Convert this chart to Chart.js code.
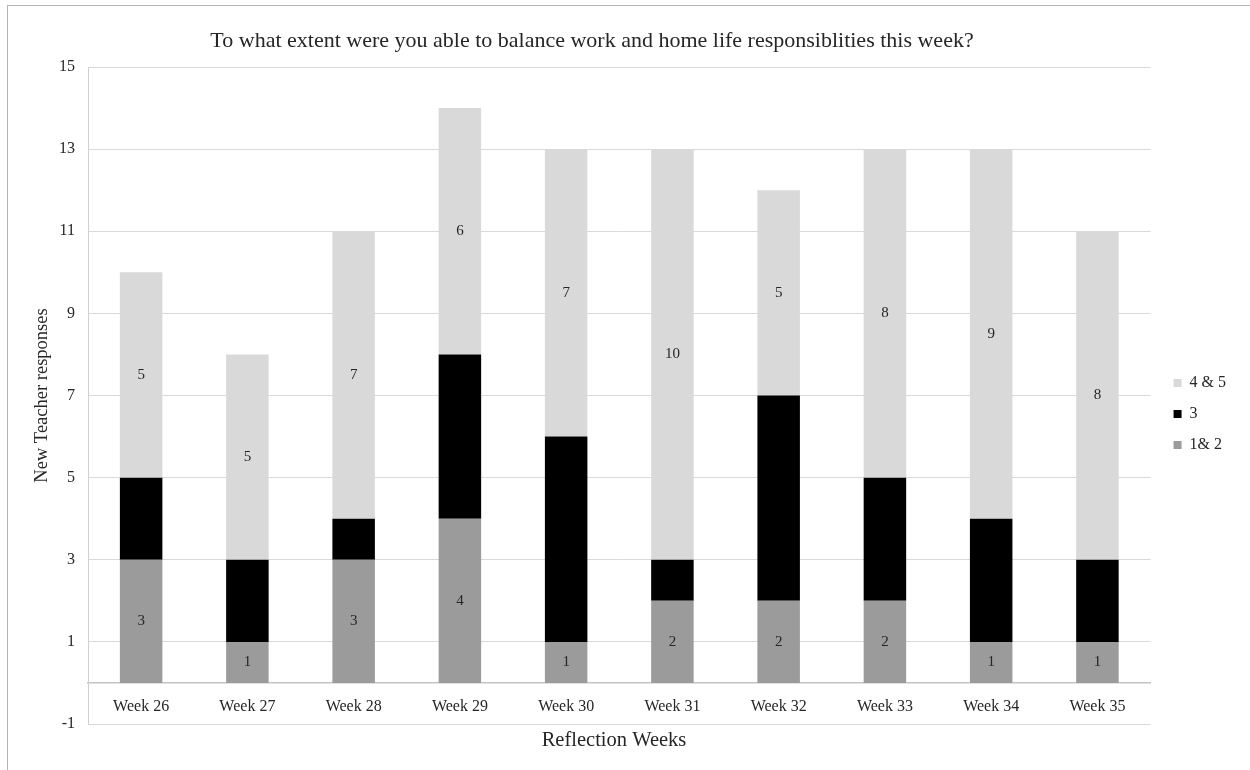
<!DOCTYPE html>
<html>
<head>
<meta charset="utf-8">
<title>Work and home life balance</title>
<script src="https://cdn.jsdelivr.net/npm/chart.js@4.4.1/dist/chart.umd.min.js"></script>
<style>
  html, body { margin: 0; padding: 0; background: #fff; }
  #wrap { position: relative; width: 1250px; height: 770px; overflow: hidden; }
  #frame {
    position: absolute; left: 7px; top: 5px; right: -2px; bottom: -2px;
    border-left: 1px solid #b4b4b4; border-top: 1px solid #b4b4b4;
  }
  canvas { position: absolute; left: 0; top: 0; }
</style>
</head>
<body>
<div id="wrap">
  <div id="frame"></div>
  <canvas id="chartBalance" width="1250" height="770"></canvas>
</div>
<script>
// ── DATA ─────────────────────────────────────────────
const weeks  = ['Week 26','Week 27','Week 28','Week 29','Week 30','Week 31','Week 32','Week 33','Week 34','Week 35'];
const low    = [3, 1, 3, 4, 1, 2, 2, 2, 1, 1];    // "1& 2"
const mid    = [2, 2, 1, 4, 5, 1, 5, 3, 3, 2];    // "3"
const high   = [5, 5, 7, 6, 7, 10, 5, 8, 9, 8];   // "4 & 5"
const yTicks = [-1, 1, 3, 5, 7, 9, 11, 13, 15];

const serif = "'Liberation Serif', 'Times New Roman', serif";
const ink = '#262626';

// value labels in the middle of the grey segments
const barLabels = {
  id: 'barLabels',
  afterDatasetsDraw(chart) {
    const ctx = chart.ctx;
    ctx.save();
    ctx.font = '15px ' + serif;
    ctx.fillStyle = ink;
    ctx.textAlign = 'center';
    ctx.textBaseline = 'middle';
    chart.data.datasets.forEach((ds, i) => {
      if (!ds.showValues) return;
      chart.getDatasetMeta(i).data.forEach((bar, j) => {
        const p = bar.getCenterPoint();
        ctx.fillText(ds.data[j], p.x, p.y);
      });
    });
    ctx.restore();
  }
};

// move title and legend to where the original had them
const nudge = {
  id: 'nudge',
  afterLayout(chart) {
    const t = chart.titleBlock, l = chart.legend;
    t.left -= 22; t.right -= 22;
    l.left += 8; l.right += 8;
    l.top += 29; l.bottom += 29;
  }
};

Chart.defaults.font.family = serif;
Chart.defaults.color = ink;

new Chart(document.getElementById('chartBalance'), {
  type: 'bar',
  data: {
    labels: weeks,
    datasets: [
      { label: '1& 2',  data: low,  backgroundColor: '#9b9b9b', showValues: true },
      { label: '3',     data: mid,  backgroundColor: '#000000', showValues: false },
      { label: '4 & 5', data: high, backgroundColor: '#d9d9d9', showValues: true }
    ]
  },
  options: {
    responsive: false,
    animation: false,
    layout: { padding: { left: 0, right: 22, top: 0, bottom: 0 } },
    datasets: { bar: { categoryPercentage: 1, barPercentage: 0.4 } },
    plugins: {
      title: {
        display: true,
        text: 'To what extent were you able to balance work and home life responsiblities this week?',
        font: { size: 22, weight: 'normal' },
        color: ink,
        padding: { top: 28, bottom: 12.6 }
      },
      subtitle: {
        display: true,
        position: 'bottom',
        text: 'Reflection Weeks',
        font: { size: 20.5 },
        color: ink,
        padding: { top: 4, bottom: 17.4 }
      },
      legend: {
        position: 'right',
        reverse: true,
        labels: { font: { size: 16 }, boxWidth: 8, boxHeight: 8, padding: 15, color: ink }
      },
      tooltip: { enabled: false }
    },
    scales: {
      x: {
        stacked: true,
        position: { y: 0 },
        grid: { display: false },
        border: { color: '#c4c4c4', width: 1.5 },
        ticks: { font: { size: 16 }, padding: 6, maxRotation: 0 }
      },
      y: {
        stacked: true,
        min: yTicks[0],
        max: yTicks[yTicks.length - 1],
        afterBuildTicks: s => { s.ticks = yTicks.map(v => ({ value: v })); },
        afterFit: s => { s.width = 88; },
        grid: { color: '#d9d9d9', drawTicks: false },
        border: { color: '#d0d0d0' },
        ticks: { font: { size: 16 }, padding: 13 },
        title: {
          display: true,
          text: 'New Teacher responses',
          font: { size: 18.5 },
          color: ink,
          padding: { top: 31, bottom: 0 }
        }
      }
    }
  },
  plugins: [barLabels, nudge]
});
</script>
</body>
</html>
